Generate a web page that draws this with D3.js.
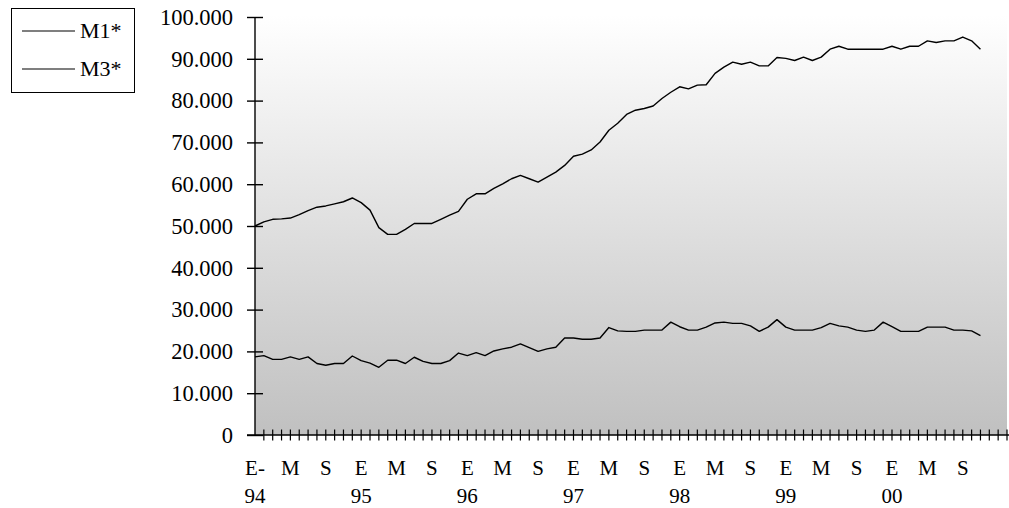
<!DOCTYPE html>
<html>
<head>
<meta charset="utf-8">
<script src="https://cdn.jsdelivr.net/npm/d3@7"></script>
<style>
  html, body { margin: 0; padding: 0; background: #fff; }
  svg { display: block; }
  svg text { fill: #000; }
</style>
</head>
<body>
<svg id="chart" width="1009" height="508"></svg>
<script>
// Monthly series, January 1994 – November 2000
const m1Values = [
  50000, 51000, 51600, 51700, 51900, 52700, 53700, 54500, 54800, 55300, 55800, 56700,
  55600, 53800, 49600, 48000, 48000, 49200, 50600, 50600, 50600, 51600, 52600, 53500,
  56400, 57700, 57700, 59000, 60100, 61300, 62100, 61300, 60500, 61700, 62900, 64500,
  66700, 67200, 68200, 70100, 72900, 74600, 76700, 77700, 78100, 78700, 80500, 82000,
  83300, 82800, 83700, 83800, 86500, 88000, 89200, 88700, 89200, 88300, 88300, 90300,
  90100, 89600, 90400, 89600, 90400, 92300, 93000, 92300, 92300, 92300, 92300, 92300,
  93000, 92300, 93000, 93000, 94300, 93900, 94300, 94300, 95200, 94300, 92300
];
const m3Values = [
  18700, 19000, 18100, 18100, 18700, 18100, 18700, 17100, 16700, 17100, 17100, 18900,
  17800, 17200, 16200, 17900, 17900, 17100, 18600, 17600, 17100, 17100, 17800, 19600,
  19000, 19700, 19000, 20100, 20600, 21000, 21800, 20900, 20000, 20600, 21000, 23200,
  23200, 22900, 22900, 23200, 25700, 24900, 24800, 24800, 25100, 25100, 25100, 27000,
  25900, 25100, 25100, 25800, 26800, 27000, 26700, 26700, 26100, 24800, 25800, 27600,
  25800, 25100, 25100, 25100, 25700, 26700, 26100, 25800, 25100, 24800, 25100, 27000,
  25900, 24800, 24800, 24800, 25800, 25800, 25800, 25100, 25100, 24900, 23800
];

// Category axis: monthly slots from Jan 1994 to Feb 2001
const years = ["94", "95", "96", "97", "98", "99", "00", "01"];
const monthCodes = ["E", "F", "M", "A", "M", "J", "J", "A", "S", "O", "N", "D"];
const categories = years.flatMap(yr => monthCodes.map(m => m + "-" + yr)).slice(0, 86);

// Tick labels: every fourth month, plus the year under each January
const monthLabels = ["E-", "M", "S", "E", "M", "S", "E", "M", "S", "E", "M", "S",
                     "E", "M", "S", "E", "M", "S", "E", "M", "S"];
const yearLabels = ["94", "95", "96", "97", "98", "99", "00"];
const yTicks = [0, 10000, 20000, 30000, 40000, 50000, 60000, 70000, 80000, 90000, 100000];

const series = [
  { name: "M1*", values: m1Values },
  { name: "M3*", values: m3Values }
];

const FONT = "'Liberation Serif', 'Times New Roman', serif";

const svg = d3.select("#chart");
const plotLeft = 255, plotRight = 1007, plotTop = 17, plotBottom = 435;

const x = d3.scaleLinear().domain([0, categories.length - 1]).range([plotLeft, plotRight]);
const y = d3.scaleLinear().domain([0, 100000]).range([plotBottom, plotTop]);

const es = d3.formatLocale({ decimal: ",", thousands: ".", grouping: [3], currency: ["", ""] });
const fmt = es.format(",");

// Plot-area gradient
const defs = svg.append("defs");
const grad = defs.append("linearGradient").attr("id", "bg")
  .attr("x1", 0).attr("y1", 0).attr("x2", 0).attr("y2", 1);
grad.append("stop").attr("offset", "0%").attr("stop-color", "#ffffff");
grad.append("stop").attr("offset", "100%").attr("stop-color", "#c0c0c0");

svg.append("rect")
  .attr("x", plotLeft).attr("y", y(100000) - 2)
  .attr("width", plotRight - plotLeft).attr("height", plotBottom - y(100000) + 2)
  .attr("fill", "url(#bg)");

// Y axis with ticks crossing the axis line
const yAxis = d3.axisLeft(y).tickValues(yTicks).tickFormat(fmt).tickSize(0).tickPadding(22);
const gy = svg.append("g").attr("transform", `translate(${plotLeft},0)`).call(yAxis);
gy.select(".domain").remove();
gy.selectAll(".tick line").attr("x1", -8).attr("x2", 8).attr("stroke", "#000").attr("stroke-width", 1.4);
gy.selectAll(".tick text")
  .style("font-family", FONT).style("font-size", "22.5px").attr("fill", "#000");
svg.append("line")
  .attr("x1", plotLeft).attr("x2", plotLeft).attr("y1", y(100000)).attr("y2", plotBottom)
  .attr("stroke", "#000").attr("stroke-width", 1.4);

// X axis: a crossing tick on every month
const gx = svg.append("g");
gx.append("line")
  .attr("x1", plotLeft - 8).attr("x2", plotRight + 2).attr("y1", plotBottom).attr("y2", plotBottom)
  .attr("stroke", "#000").attr("stroke-width", 1.4);
gx.selectAll("line.tick").data(d3.range(1, categories.length)).join("line")
  .attr("class", "tick")
  .attr("x1", d => x(d)).attr("x2", d => x(d))
  .attr("y1", plotBottom - 5.5).attr("y2", plotBottom + 5.5)
  .attr("stroke", "#000").attr("stroke-width", 1.2);

gx.selectAll("text.month").data(monthLabels).join("text")
  .attr("class", "month")
  .attr("x", (d, i) => x(i * 4))
  .attr("y", 475)
  .attr("text-anchor", "middle")
  .style("font-family", FONT).style("font-size", "21px")
  .text(d => d);

gx.selectAll("text.year").data(yearLabels).join("text")
  .attr("class", "year")
  .attr("x", (d, i) => x(i * 12))
  .attr("y", 503)
  .attr("text-anchor", "middle")
  .style("font-family", FONT).style("font-size", "21px")
  .text(d => d);

// Series lines
const line = d3.line().x((d, i) => x(i)).y(d => y(d));
svg.selectAll("path.series").data(series).join("path")
  .attr("class", "series")
  .attr("d", d => line(d.values))
  .attr("fill", "none")
  .attr("stroke", "#000")
  .attr("stroke-width", 1.4)
  .attr("stroke-linejoin", "round");

// Legend
const lg = svg.append("g");
lg.append("rect")
  .attr("x", 11.5).attr("y", 8.5).attr("width", 123).attr("height", 84)
  .attr("fill", "#fff").attr("stroke", "#000").attr("stroke-width", 1);
const items = lg.selectAll("g.item").data(series).join("g")
  .attr("class", "item")
  .attr("transform", (d, i) => `translate(0, ${31 + i * 38})`);
items.append("line")
  .attr("x1", 22).attr("x2", 75).attr("y1", 0).attr("y2", 0)
  .attr("stroke", "#000").attr("stroke-width", 1.2);
items.append("text")
  .attr("x", 80).attr("y", 7)
  .style("font-family", FONT).style("font-size", "22px")
  .text(d => d.name);
</script>
</body>
</html>
